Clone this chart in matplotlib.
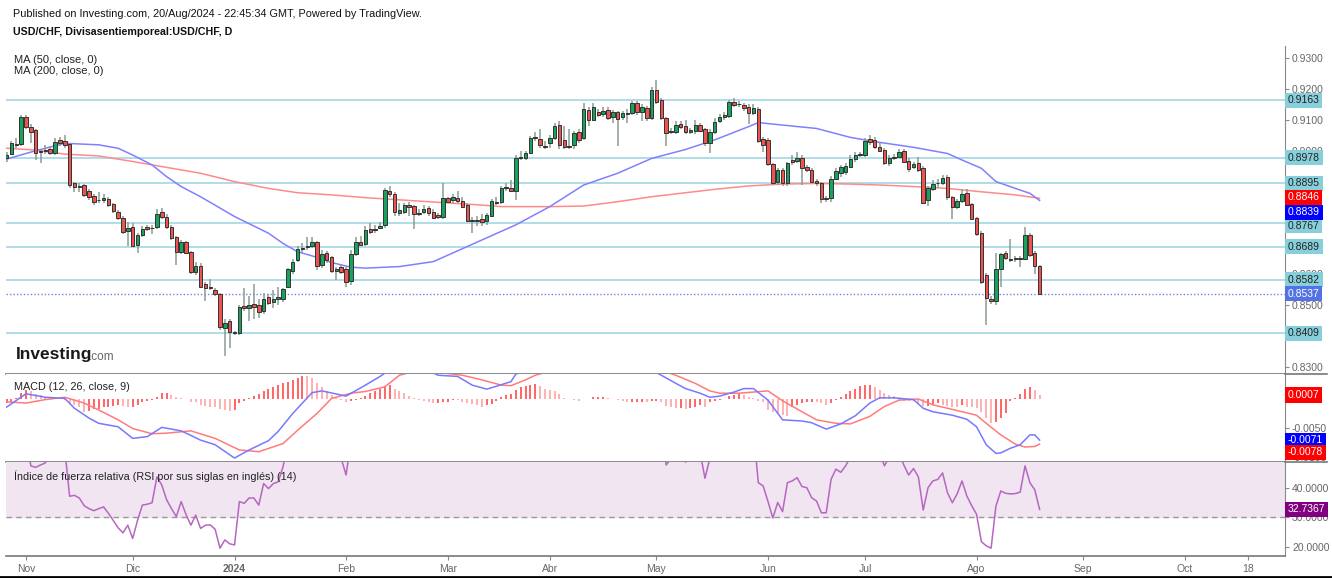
import matplotlib
matplotlib.use("Agg")
import matplotlib.pyplot as plt
import numpy as np
import pandas as pd
from matplotlib.lines import Line2D
from matplotlib.ticker import FormatStrFormatter

plt.rcParams['font.family'] = ['Liberation Sans', 'DejaVu Sans']

# ---- data (daily USD/CHF, 26 Oct 2023 .. 20 Aug 2024) ----
first_day = '2023-10-26'

opens = [
    0.8975, 0.8990, 0.9022, 0.9022, 0.9108, 0.9078, 0.9067, 0.8995, 0.8998, 0.9005,
    0.8994, 0.9035, 0.9032, 0.9021, 0.8895, 0.8884, 0.8888, 0.8868, 0.8852, 0.8840,
    0.8841, 0.8843, 0.8826, 0.8803, 0.8783, 0.8740, 0.8754, 0.8695, 0.8727, 0.8752,
    0.8749, 0.8754, 0.8803, 0.8787, 0.8754, 0.8720, 0.8671, 0.8703, 0.8671, 0.8609,
    0.8627, 0.8568, 0.8555, 0.8549, 0.8536, 0.8425, 0.8449, 0.8414, 0.8409, 0.8498,
    0.8492, 0.8503, 0.8500, 0.8481, 0.8525, 0.8511, 0.8519, 0.8519, 0.8560, 0.8611,
    0.8646, 0.8683, 0.8688, 0.8690, 0.8704, 0.8629, 0.8668, 0.8655, 0.8612, 0.8622,
    0.8616, 0.8578, 0.8665, 0.8706, 0.8698, 0.8746, 0.8744, 0.8751, 0.8758, 0.8870,
    0.8859, 0.8797, 0.8803, 0.8824, 0.8821, 0.8795, 0.8803, 0.8815, 0.8801, 0.8792,
    0.8787, 0.8846, 0.8842, 0.8847, 0.8836, 0.8824, 0.8774, 0.8776, 0.8778, 0.8773,
    0.8790, 0.8835, 0.8833, 0.8880, 0.8878, 0.8871, 0.8976, 0.8978, 0.8993, 0.9043,
    0.9039, 0.9015, 0.9024, 0.9042, 0.9083, 0.9035, 0.9015, 0.9018, 0.9060, 0.9040,
    0.9132, 0.9099, 0.9126, 0.9118, 0.9132, 0.9110, 0.9124, 0.9110, 0.9120, 0.9121,
    0.9153, 0.9124, 0.9139, 0.9105, 0.9196, 0.9164, 0.9107, 0.9060, 0.9062, 0.9085,
    0.9081, 0.9062, 0.9064, 0.9083, 0.9069, 0.9026, 0.9062, 0.9097, 0.9108, 0.9112,
    0.9159, 0.9150, 0.9148, 0.9142, 0.9123, 0.9134, 0.9037, 0.9035, 0.8957, 0.8899,
    0.8938, 0.8894, 0.8970, 0.8967, 0.8975, 0.8948, 0.8938, 0.8903, 0.8894, 0.8848,
    0.8846, 0.8910, 0.8927, 0.8931, 0.8948, 0.8973, 0.8986, 0.8986, 0.9037, 0.9035,
    0.9013, 0.9002, 0.8959, 0.8978, 0.8981, 0.8999, 0.8968, 0.8946, 0.8959, 0.8943,
    0.8841, 0.8875, 0.8894, 0.8897, 0.8914, 0.8851, 0.8817, 0.8838, 0.8862, 0.8827,
    0.8783, 0.8735, 0.8598, 0.8519, 0.8512, 0.8616, 0.8668, 0.8651, 0.8654, 0.8649,
    0.8651, 0.8727, 0.8668, 0.8627,
]
highs = [
    0.8995, 0.9030, 0.9040, 0.9116, 0.9115, 0.9085, 0.9070, 0.9005, 0.9020, 0.9015,
    0.9040, 0.9045, 0.9050, 0.9025, 0.8900, 0.8895, 0.8892, 0.8875, 0.8860, 0.8865,
    0.8860, 0.8850, 0.8830, 0.8808, 0.8790, 0.8770, 0.8765, 0.8735, 0.8755, 0.8760,
    0.8760, 0.8810, 0.8815, 0.8795, 0.8760, 0.8725, 0.8710, 0.8708, 0.8675, 0.8640,
    0.8635, 0.8575, 0.8585, 0.8555, 0.8540, 0.8455, 0.8455, 0.8418, 0.8500, 0.8555,
    0.8530, 0.8570, 0.8520, 0.8540, 0.8535, 0.8550, 0.8560, 0.8555, 0.8620, 0.8650,
    0.8690, 0.8700, 0.8720, 0.8720, 0.8708, 0.8680, 0.8675, 0.8660, 0.8625, 0.8630,
    0.8625, 0.8680, 0.8720, 0.8725, 0.8755, 0.8765, 0.8760, 0.8770, 0.8880, 0.8885,
    0.8865, 0.8830, 0.8830, 0.8835, 0.8825, 0.8810, 0.8825, 0.8820, 0.8810, 0.8800,
    0.8895, 0.8850, 0.8860, 0.8870, 0.8850, 0.8830, 0.8785, 0.8790, 0.8795, 0.8800,
    0.8845, 0.8850, 0.8885, 0.8895, 0.8905, 0.8985, 0.9000, 0.9000, 0.9048, 0.9060,
    0.9071, 0.9030, 0.9050, 0.9090, 0.9095, 0.9080, 0.9070, 0.9065, 0.9070, 0.9153,
    0.9140, 0.9153, 0.9135, 0.9140, 0.9140, 0.9132, 0.9130, 0.9130, 0.9135, 0.9160,
    0.9160, 0.9150, 0.9145, 0.9205, 0.9229, 0.9170, 0.9110, 0.9075, 0.9095, 0.9095,
    0.9100, 0.9075, 0.9100, 0.9090, 0.9075, 0.9070, 0.9105, 0.9118, 0.9125, 0.9165,
    0.9170, 0.9160, 0.9155, 0.9150, 0.9150, 0.9140, 0.9045, 0.9040, 0.8960, 0.8945,
    0.8945, 0.8965, 0.8985, 0.8995, 0.8985, 0.8955, 0.8945, 0.8910, 0.8900, 0.8855,
    0.8918, 0.8945, 0.8955, 0.8960, 0.8985, 0.8995, 0.8995, 0.9040, 0.9050, 0.9045,
    0.9025, 0.9010, 0.8985, 0.8990, 0.9005, 0.9005, 0.8975, 0.8965, 0.8981, 0.8950,
    0.8885, 0.8905, 0.8910, 0.8920, 0.8920, 0.8855, 0.8845, 0.8875, 0.8875, 0.8830,
    0.8785, 0.8740, 0.8605, 0.8530, 0.8670, 0.8670, 0.8675, 0.8715, 0.8660, 0.8660,
    0.8752, 0.8735, 0.8675, 0.8630,
]
lows = [
    0.8965, 0.8985, 0.9010, 0.9015, 0.9070, 0.9024, 0.8970, 0.8960, 0.8990, 0.8985,
    0.8985, 0.9015, 0.9010, 0.8880, 0.8865, 0.8865, 0.8850, 0.8840, 0.8825, 0.8830,
    0.8830, 0.8818, 0.8800, 0.8775, 0.8730, 0.8690, 0.8688, 0.8670, 0.8720, 0.8740,
    0.8730, 0.8745, 0.8780, 0.8745, 0.8710, 0.8630, 0.8665, 0.8665, 0.8600, 0.8598,
    0.8555, 0.8515, 0.8550, 0.8530, 0.8420, 0.8334, 0.8360, 0.8405, 0.8405, 0.8480,
    0.8450, 0.8455, 0.8460, 0.8470, 0.8500, 0.8490, 0.8500, 0.8510, 0.8555, 0.8600,
    0.8640, 0.8670, 0.8680, 0.8685, 0.8615, 0.8620, 0.8635, 0.8605, 0.8580, 0.8600,
    0.8560, 0.8565, 0.8660, 0.8690, 0.8690, 0.8730, 0.8735, 0.8745, 0.8750, 0.8850,
    0.8790, 0.8790, 0.8795, 0.8790, 0.8745, 0.8790, 0.8795, 0.8790, 0.8778, 0.8780,
    0.8780, 0.8830, 0.8830, 0.8830, 0.8815, 0.8768, 0.8733, 0.8755, 0.8755, 0.8760,
    0.8785, 0.8825, 0.8828, 0.8870, 0.8865, 0.8842, 0.8970, 0.8970, 0.8990, 0.9030,
    0.9010, 0.9005, 0.9010, 0.9035, 0.9005, 0.9005, 0.9005, 0.9005, 0.9025, 0.9035,
    0.9080, 0.9095, 0.9108, 0.9110, 0.9100, 0.9090, 0.9015, 0.9100, 0.9090, 0.9115,
    0.9115, 0.9095, 0.9095, 0.9100, 0.9150, 0.9100, 0.9015, 0.9055, 0.9055, 0.9070,
    0.9055, 0.9055, 0.9055, 0.9060, 0.9015, 0.8991, 0.9055, 0.9090, 0.9100, 0.9105,
    0.9140, 0.9140, 0.9130, 0.9088, 0.9115, 0.9025, 0.8995, 0.8950, 0.8888, 0.8890,
    0.8885, 0.8885, 0.8955, 0.8960, 0.8890, 0.8930, 0.8895, 0.8885, 0.8830, 0.8835,
    0.8835, 0.8905, 0.8915, 0.8920, 0.8945, 0.8965, 0.8980, 0.8980, 0.9020, 0.9005,
    0.8995, 0.8955, 0.8950, 0.8970, 0.8975, 0.8960, 0.8930, 0.8940, 0.8930, 0.8828,
    0.8820, 0.8870, 0.8880, 0.8890, 0.8840, 0.8780, 0.8810, 0.8830, 0.8820, 0.8775,
    0.8725, 0.8570, 0.8436, 0.8505, 0.8500, 0.8560, 0.8645, 0.8640, 0.8640, 0.8625,
    0.8645, 0.8655, 0.8600, 0.8535,
]
closes = [
    0.8985, 0.9024, 0.9020, 0.9108, 0.9078, 0.9062, 0.8992, 0.8998, 0.9003, 0.8994,
    0.9028, 0.9026, 0.9019, 0.8889, 0.8882, 0.8886, 0.8857, 0.8849, 0.8835, 0.8842,
    0.8846, 0.8824, 0.8806, 0.8781, 0.8738, 0.8751, 0.8693, 0.8727, 0.8748, 0.8747,
    0.8751, 0.8795, 0.8785, 0.8752, 0.8717, 0.8673, 0.8703, 0.8670, 0.8609, 0.8627,
    0.8560, 0.8555, 0.8560, 0.8536, 0.8429, 0.8441, 0.8413, 0.8411, 0.8495, 0.8490,
    0.8500, 0.8495, 0.8479, 0.8521, 0.8508, 0.8519, 0.8526, 0.8552, 0.8616, 0.8641,
    0.8681, 0.8685, 0.8690, 0.8703, 0.8627, 0.8666, 0.8646, 0.8611, 0.8616, 0.8609,
    0.8576, 0.8665, 0.8706, 0.8695, 0.8744, 0.8738, 0.8746, 0.8756, 0.8873, 0.8859,
    0.8801, 0.8808, 0.8823, 0.8819, 0.8795, 0.8798, 0.8811, 0.8798, 0.8783, 0.8787,
    0.8846, 0.8835, 0.8850, 0.8836, 0.8819, 0.8773, 0.8776, 0.8772, 0.8768, 0.8791,
    0.8838, 0.8832, 0.8878, 0.8882, 0.8871, 0.8978, 0.8980, 0.8993, 0.9042, 0.9040,
    0.9019, 0.9013, 0.9042, 0.9081, 0.9020, 0.9013, 0.9011, 0.9056, 0.9035, 0.9134,
    0.9099, 0.9142, 0.9115, 0.9128, 0.9107, 0.9124, 0.9103, 0.9121, 0.9122, 0.9153,
    0.9124, 0.9142, 0.9105, 0.9196, 0.9157, 0.9107, 0.9056, 0.9064, 0.9083, 0.9078,
    0.9060, 0.9066, 0.9083, 0.9065, 0.9024, 0.9062, 0.9094, 0.9110, 0.9115, 0.9159,
    0.9148, 0.9152, 0.9137, 0.9123, 0.9137, 0.9032, 0.9018, 0.8957, 0.8896, 0.8938,
    0.8894, 0.8959, 0.8964, 0.8975, 0.8943, 0.8938, 0.8900, 0.8894, 0.8843, 0.8845,
    0.8910, 0.8934, 0.8946, 0.8950, 0.8973, 0.8986, 0.8989, 0.9032, 0.9029, 0.9013,
    0.9000, 0.8961, 0.8978, 0.8981, 0.8997, 0.8965, 0.8940, 0.8957, 0.8936, 0.8832,
    0.8878, 0.8892, 0.8897, 0.8913, 0.8849, 0.8817, 0.8838, 0.8860, 0.8825, 0.8778,
    0.8731, 0.8574, 0.8522, 0.8512, 0.8616, 0.8665, 0.8654, 0.8646, 0.8649, 0.8652,
    0.8727, 0.8662, 0.8627, 0.8537,
]

# moving averages (bar number, value)
ma50_bar = [0, 6, 12, 19, 23, 26, 30, 33, 36, 40, 47, 54, 57, 60, 64, 67, 71, 74, 81, 88,
            91, 98, 105, 112, 119, 126, 133, 140, 146, 153, 155, 160, 167, 174, 180, 187,
            194, 197, 201, 204, 208, 211, 213]
ma50_val = [0.8973, 0.9000, 0.9024, 0.9019, 0.9008, 0.8986, 0.8954, 0.8916, 0.8884, 0.8851,
            0.8787, 0.8733, 0.8700, 0.8673, 0.8655, 0.8638, 0.8623, 0.8620, 0.8625, 0.8641,
            0.8662, 0.8711, 0.8760, 0.8819, 0.8889, 0.8927, 0.8975, 0.9004, 0.9035, 0.9078,
            0.9091, 0.9083, 0.9072, 0.9043, 0.9027, 0.9011, 0.8991, 0.8970, 0.8943, 0.8900,
            0.8878, 0.8862, 0.8839]
ma200_bar = [0, 6, 12, 19, 26, 33, 40, 47, 54, 60, 67, 74, 81, 91, 98, 102, 112, 119, 126,
             133, 140, 146, 153, 160, 167, 174, 180, 187, 194, 201, 208, 213]
ma200_val = [0.9008, 0.9002, 0.8989, 0.8983, 0.8965, 0.8946, 0.8927, 0.8900, 0.8878, 0.8864,
             0.8857, 0.8848, 0.8841, 0.8831, 0.8824, 0.8819, 0.8819, 0.8821, 0.8835, 0.8851,
             0.8864, 0.8875, 0.8886, 0.8892, 0.8894, 0.8892, 0.8889, 0.8884, 0.8878, 0.8867,
             0.8857, 0.8846]

# MACD (12, 26, close, 9)
macd_bar = [0, 4, 8, 12, 14, 17, 19, 23, 26, 29, 32, 36, 40, 43, 47, 50, 54, 56, 59, 63,
            65, 70, 74, 77, 79, 84, 88, 89, 93, 96, 99, 101, 104, 105, 110, 120, 128, 132,
            135, 138, 140, 143, 145, 147, 150, 152, 154, 157, 160, 164, 166, 169, 172, 175,
            178, 180, 183, 187, 189, 191, 195, 198, 200, 202, 204, 205, 207, 209, 211, 212, 213]
macd_val = [-0.0014, 0.0009, 0.0003, 0.0001, -0.0016, -0.0033, -0.0042, -0.0048, -0.0068,
            -0.0065, -0.0049, -0.0055, -0.0071, -0.0079, -0.0102, -0.0088, -0.0072, -0.0056,
            -0.0025, 0.0011, 0.0014, 0.0005, 0.0024, 0.0039, 0.0050, 0.0058, 0.0045, 0.0041,
            0.0039, 0.0024, 0.0017, 0.0022, 0.0030, 0.0043, 0.0058, 0.0070, 0.0068, 0.0055,
            0.0041, 0.0027, 0.0018, 0.0010, 0.0003, 0.0005, 0.0012, 0.0018, 0.0018, -0.0002,
            -0.0036, -0.0038, -0.0041, -0.0052, -0.0043, -0.0029, -0.0007, 0.0002, 0.0002,
            -0.0001, -0.0016, -0.0022, -0.0028, -0.0035, -0.0048, -0.0079, -0.0094, -0.0093,
            -0.0085, -0.0079, -0.0062, -0.0062, -0.0071]
signal_bar = [0, 4, 8, 12, 16, 19, 23, 26, 30, 33, 38, 43, 48, 52, 57, 60, 64, 67, 71, 74,
              78, 81, 85, 90, 94, 98, 102, 104, 107, 109, 115, 125, 133, 138, 142, 145, 147,
              151, 157, 160, 164, 167, 171, 174, 178, 181, 184, 188, 191, 195, 200, 202, 205,
              208, 210, 212, 213]
signal_val = [-0.0005, -0.0007, -0.0001, 0.0003, -0.0007, -0.0019, -0.0036, -0.0051, -0.0060,
              -0.0059, -0.0055, -0.0068, -0.0088, -0.0091, -0.0077, -0.0054, -0.0025, 0.0001,
              0.0010, 0.0013, 0.0021, 0.0041, 0.0050, 0.0045, 0.0041, 0.0033, 0.0024, 0.0023,
              0.0033, 0.0041, 0.0055, 0.0062, 0.0055, 0.0041, 0.0027, 0.0014, 0.0010, 0.0010,
              0.0014, -0.0003, -0.0022, -0.0036, -0.0042, -0.0043, -0.0030, -0.0013, -0.0002,
              0.0000, -0.0010, -0.0018, -0.0028, -0.0042, -0.0062, -0.0078, -0.0083, -0.0082,
              -0.0078]
# histogram, in units of 0.0001
hist_e4 = [
    -7, -5, 2, 10, 15, 13, 9, 7, 4, 3,
    4, 2, -1, -7, -10, -14, -22, -20, -18, -18,
    -14, -13, -12, -10, -12, -13, -13, -10, -6, -3,
    -1, 4, 10, 11, 7, 3, 1, 0, -5, -6,
    -10, -12, -13, -14, -18, -19, -20, -19, -7, -3,
    1, 5, 9, 14, 18, 21, 24, 27, 30, 33,
    37, 40, 39, 37, 27, 21, 14, 7, 1, -2,
    -5, -3, -1, 1, 5, 10, 14, 18, 22, 24,
    18, 14, 10, 5, 1, -1, -3, -5, -7, -7,
    -6, -5, -1, -2, -5, -7, -9, -10, -13, -10,
    -9, -3, 3, 7, 9, 16, 20, 23, 24, 26,
    22, 17, 16, 14, 9, 2, -0.5, -1, -3, 0,
    0, 3, 3, 3, 1, 0, -1, -3, -5, -5,
    -5, -5, -6, -3, -3, -6, -12, -14, -16, -16,
    -17, -16, -14, -10, -13, -6, -3, -2, 0, 5,
    7, 9, 7, 4, 1, -3, -6, -19, -22, -25,
    -28, -29, -14, -10, -7, -6, -5, -6, -7, -10,
    -7, -2, 3, 9, 13, 18, 22, 24, 24, 21,
    16, 10, 7, 5, -1, -3, -4, -4, -7, -12,
    -12, -10, -7, -10, -12, -13, -14, -10, -13, -14,
    -16, -22, -33, -42, -39, -33, -24, -4, 2, 9,
    18, 20, 16, 7,
]

# RSI (14)
rsi = [
    55, 57, 57, 66, 58, 47.5, 47, 47.8, 48.5, 52,
    56, 54, 53, 37.2, 37.5, 36.6, 34.0, 33.0, 32.3, 33.0,
    33.6, 31.4, 29.0, 26.5, 24.8, 27.4, 22.9, 29.0, 34.2, 34.5,
    35.0, 43.8, 41.0, 36.0, 33.0, 30.3, 35.4, 31.0, 27.4, 30.8,
    26.3, 27.4, 27.5, 26.0, 19.6, 22.4, 21.1, 20.7, 35.4, 34.8,
    36.6, 36.6, 34.2, 41.5, 39.8, 41.5, 42.1, 47.2, 55.0, 58.0,
    62.0, 62.5, 63.0, 64.0, 54.0, 57.0, 55.0, 51.0, 51.5, 50.0,
    44.4, 56.0, 61.0, 60.0, 64.0, 63.0, 63.5, 64.0, 72.0, 70.0,
    62.0, 63.0, 64.5, 64.0, 60.0, 60.5, 61.5, 59.5, 57.5, 58.0,
    64.0, 63.0, 63.5, 62.0, 60.0, 55.0, 55.5, 55.0, 54.0, 56.5,
    61.0, 60.5, 64.0, 64.5, 63.5, 71.0, 71.5, 72.0, 75.0, 75.0,
    71.0, 70.5, 73.0, 76.0, 68.0, 65.0, 65.0, 68.0, 66.0, 74.0,
    69.0, 71.0, 69.5, 70.0, 67.0, 68.5, 66.0, 67.5, 67.5, 70.0,
    66.5, 68.0, 63.5, 71.0, 66.0, 58.0, 47.8, 50.0, 53.0, 52.0,
    48.8, 50.0, 53.0, 52.0, 43.3, 50.0, 55.0, 57.0, 58.0, 63.0,
    61.5, 62.0, 60.0, 58.0, 59.5, 41.8, 40.7, 35.4, 29.8, 35.1,
    32.0, 41.8, 42.4, 43.5, 40.5, 40.1, 36.7, 35.6, 31.6, 31.6,
    42.9, 46.4, 45.3, 47.5, 50.5, 52.0, 52.5, 57.0, 56.0, 54.0,
    52.0, 47.5, 50.5, 51.0, 52.5, 47.8, 44.4, 46.6, 43.8, 32.5,
    40.1, 42.4, 42.9, 45.1, 38.4, 35.0, 38.0, 42.4, 37.3, 34.0,
    31.1, 21.8, 20.4, 19.6, 33.9, 39.0, 38.2, 38.0, 38.1, 38.6,
    47.5, 41.8, 39.4, 32.7367,
]

# horizontal support / resistance levels
levels = [0.9163, 0.8978, 0.8895, 0.8767, 0.8689, 0.8582, 0.8409]

tick_dates = ['2023-11-01', '2023-12-01', '2024-01-01', '2024-02-01', '2024-03-01',
              '2024-04-01', '2024-05-01', '2024-06-01', '2024-07-01', '2024-08-01',
              '2024-09-01', '2024-10-01', '2024-10-18']
tick_names = ['Nov', 'Dic', '2024', 'Feb', 'Mar', 'Abr', 'May', 'Jun', 'Jul', 'Ago',
              'Sep', 'Oct', '18']
price_ticks = [0.83, 0.85, 0.86, 0.90, 0.91, 0.92, 0.93]
macd_ticks = [-0.01, -0.005]
rsi_ticks = [20, 30, 40]

# ---- figure ----
W, H = 1332, 578
fig = plt.figure(figsize=(W / 100, H / 100), dpi=100)
fig.patch.set_facecolor('white')


def px_rect(left, top, right, bottom):
    return [left / W, 1 - bottom / H, (right - left) / W, (bottom - top) / H]


ax1 = fig.add_axes(px_rect(6, 46, 1285, 374))
ax2 = fig.add_axes(px_rect(6, 374, 1285, 462), sharex=ax1)
ax3 = fig.add_axes(px_rect(6, 462, 1285, 556), sharex=ax1)

bdays = pd.bdate_range(first_day, '2024-10-31')
x = np.arange(len(closes))
o = np.array(opens)
c = np.array(closes)
up = c >= o

GREEN = '#17a35e'
RED = '#ef5350'
EDGE = '#333333'
WICK = '#8b9c92'
GREY = '#666666'

for ax in (ax1, ax2, ax3):
    ax.set_facecolor('white')
    for s in ('top', 'left'):
        ax.spines[s].set_visible(False)
    ax.spines['right'].set_color('#888888')
    ax.spines['bottom'].set_color('#777777')
    ax.spines['bottom'].set_linewidth(1.2)
    ax.yaxis.tick_right()
    ax.tick_params(axis='y', length=3, width=0.8, colors='#888888', labelsize=7.5,
                   labelcolor=GREY, pad=2)

# price panel
for lv in levels:
    ax1.axhline(lv, color='#afdde8', lw=1.4, zorder=1)
ax1.axhline(c[-1], color='#6f82e6', lw=1, ls=(0, (1, 1.5)), zorder=1)
ax1.plot(ma200_bar, ma200_val, color='#ff8a8a', lw=1.1, zorder=2)
ax1.plot(ma50_bar, ma50_val, color='#8080ff', lw=1.1, zorder=2)
ax1.vlines(x, lows, highs, color=WICK, lw=1.1, zorder=3)
ax1.bar(x, c - o, bottom=o, width=0.72, color=np.where(up, GREEN, RED),
        edgecolor=EDGE, linewidth=0.7, zorder=4)
ax1.set_ylim(0.82773, 0.93389)
ax1.set_yticks(price_ticks)
ax1.yaxis.set_major_formatter(FormatStrFormatter('%.4f'))

# MACD panel
hist = np.array(hist_e4) / 10000
rising = np.diff(hist, prepend=hist[0]) >= 0
ax2.vlines(x, 0, hist, colors=np.where(rising, '#ff6464', '#ffb0b0'), lw=1.4, zorder=2)
ax2.plot(signal_bar, signal_val, color='#ff7b7b', lw=1.1, zorder=3)
ax2.plot(macd_bar, macd_val, color='#7878ff', lw=1.1, zorder=3)
ax2.set_ylim(-0.010881, 0.004318)
ax2.set_yticks(macd_ticks)
ax2.yaxis.set_major_formatter(FormatStrFormatter('%.4f'))

# RSI panel
ax3.axhspan(30, 70, color='#f1e5f1', zorder=0)
ax3.axhline(30, color='#999999', lw=1, ls=(0, (4, 3)), zorder=1)
ax3.plot(x, rsi, color='#b766c2', lw=1.1, zorder=2)
ax3.set_ylim(16.95, 48.81)
ax3.set_yticks(rsi_ticks)
ax3.yaxis.set_major_formatter(FormatStrFormatter('%.4f'))

# x axis
tick_pos = [bdays.searchsorted(pd.Timestamp(d)) for d in tick_dates]
ax3.set_xlim(-0.12, 263.6)
ax3.set_xticks(tick_pos)
ax3.set_xticklabels(tick_names)
ax3.tick_params(axis='x', length=3, colors='#888888', labelsize=7.5, labelcolor=GREY, pad=3)
for lab in ax3.get_xticklabels():
    if lab.get_text() == '2024':
        lab.set_fontweight('bold')
for ax in (ax1, ax2):
    ax.tick_params(axis='x', bottom=False, labelbottom=False)


# value tags on the right
def tag(ax, y, text, fc, tc='white', dy=0):
    ax.annotate(text, xy=(1, y), xycoords=('axes fraction', 'data'), xytext=(3, dy),
                textcoords='offset pixels', ha='left', va='center', fontsize=7.5, color=tc,
                bbox=dict(boxstyle='square,pad=0.25', fc=fc, ec='none'),
                annotation_clip=False, zorder=6)


# tags stacked where they would collide (pixel nudges, as on the chart)
level_nudge = {0.8767: -3}
for lv in levels:
    tag(ax1, lv, f'{lv:.4f}', '#88cfdc', '#222222', dy=level_nudge.get(lv, 0))
tag(ax1, ma200_val[-1], f'{ma200_val[-1]:.4f}', '#ff0000', dy=1)
tag(ax1, ma50_val[-1], f'{ma50_val[-1]:.4f}', '#0000ff', dy=-12)
tag(ax1, c[-1], f'{c[-1]:.4f}', '#5272e6')
tag(ax2, hist[-1], f'{hist[-1]:.4f}', '#ff0000')
tag(ax2, macd_val[-1], f'{macd_val[-1]:.4f}', '#0000ff')
tag(ax2, signal_val[-1], f'{signal_val[-1]:.4f}', '#ff0000', dy=-8)
tag(ax3, rsi[-1], f'{rsi[-1]:.4f}', '#800080')

# separators running past the price scale
for yy in (374, 462):
    fig.add_artist(Line2D([1285 / W, 1327 / W], [1 - yy / H, 1 - yy / H],
                          color='#777777', lw=1.2))
fig.add_artist(Line2D([0, 1], [1 - 577 / H, 1 - 577 / H], color='black', lw=2))


def ftext(px, py, s, **kw):
    fig.text(px / W, 1 - py / H, s, va='center', ha='left', **kw)


ftext(13, 14, 'Published on Investing.com, 20/Aug/2024 - 22:45:34 GMT, Powered by TradingView.',
      fontsize=7.8, color='#111111')
ftext(13, 32, 'USD/CHF, Divisasentiemporeal:USD/CHF, D', fontsize=7.7, fontweight='bold',
      color='#111111')
ftext(14, 60, 'MA (50, close, 0)', fontsize=8, color='#222222')
ftext(14, 71, 'MA (200, close, 0)', fontsize=8, color='#222222')
ftext(14, 387, 'MACD (12, 26, close, 9)', fontsize=7.8, color='#222222')
ftext(14, 476, 'Índice de fuerza relativa (RSI por sus siglas en inglés) (14)', fontsize=7.75,
      color='#222222')
ftext(16, 355, 'Investing', fontsize=12.5, fontweight='bold', color='#1a1a1a')
ftext(89, 357, '.com', fontsize=8.5, color='#666666')

fig.savefig('out.png', dpi=100)
